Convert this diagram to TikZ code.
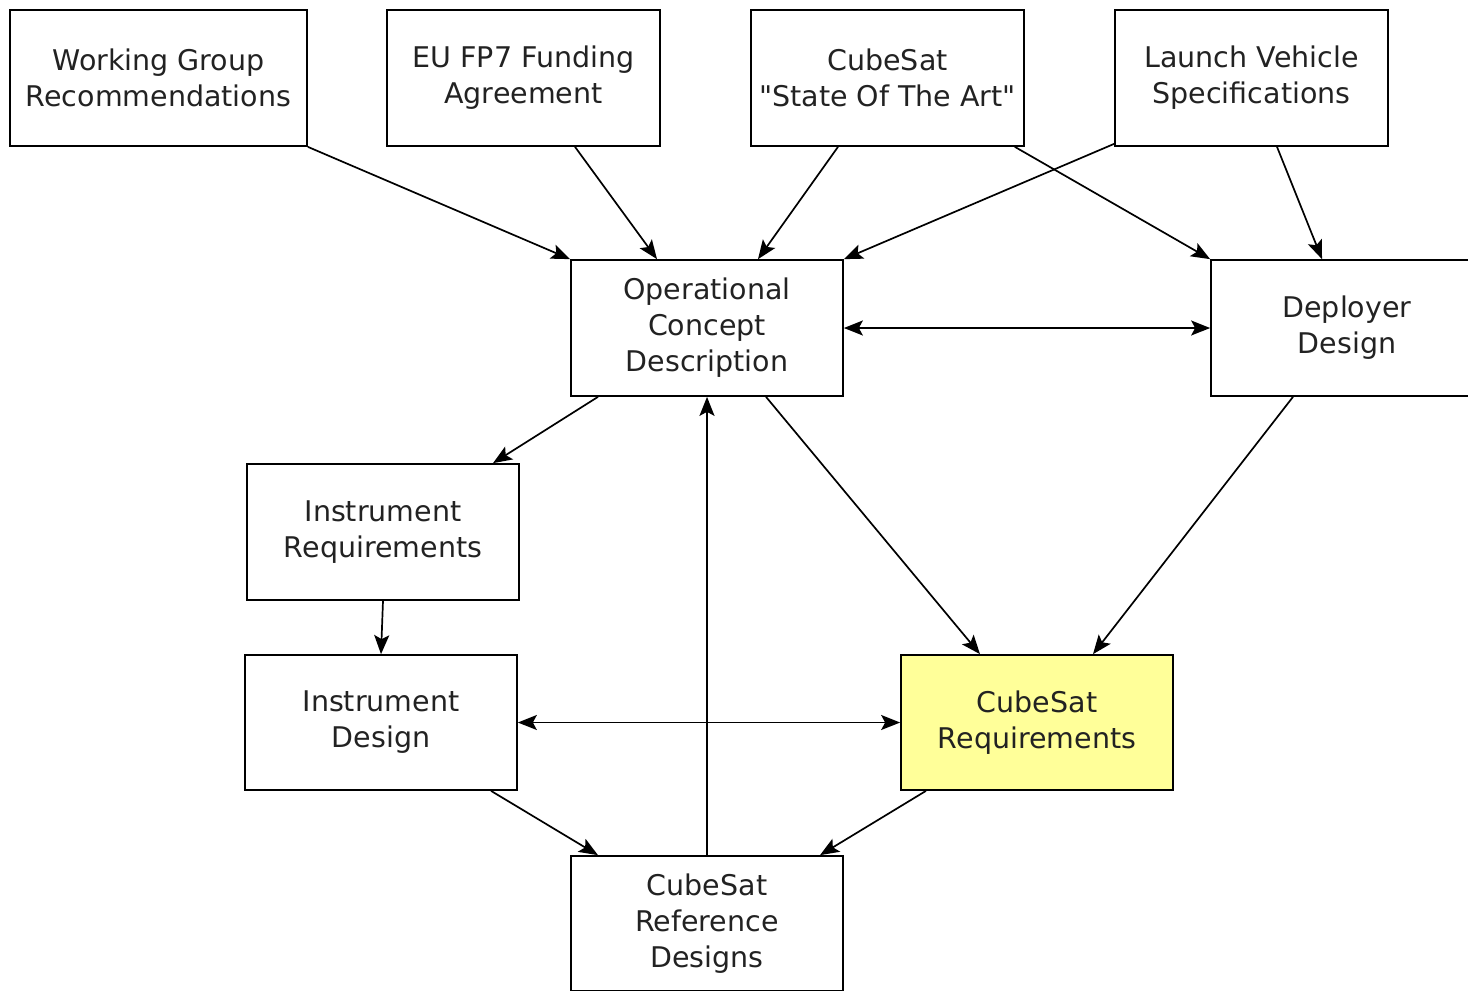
\documentclass[tikz,border=0pt]{standalone}
\usepackage{fontspec}
\setmainfont{DejaVu Sans}[Ligatures=TeXOff]
\usetikzlibrary{arrows.meta}
\definecolor{reqyellow}{RGB}{255,255,153}
\definecolor{txt}{RGB}{34,34,34}
\tikzset{
  box/.style={draw=black, line width=1.7pt, rectangle, inner sep=0pt,
    minimum width=272pt, minimum height=136pt, align=center,
    font=\fontsize{28.5}{36}\selectfont, text=txt},
  conn/.style={line width=1.7pt, -{Stealth[length=19pt,width=15pt,inset=4pt]}},
  bconn/.style={line width=1.7pt, {Stealth[length=19pt,width=15pt,inset=4pt]}-{Stealth[length=19pt,width=15pt,inset=4pt]}}
}
\begin{document}
\begin{tikzpicture}[x=1pt,y=-1pt]
\useasboundingbox (0,0) rectangle (1468,991);
\node[box, minimum width=297pt] (wg) at (158.5,78) {Working Group\\Recommendations};
\node[box, minimum width=273pt] (eu) at (523.5,78) {EU FP7 Funding\\Agreement};
\node[box, minimum width=273pt] (soa) at (887.5,78) {CubeSat\\"State Of The Art"};
\node[box, minimum width=273pt] (lvs) at (1251.5,78) {Launch Vehicle\\Specifications};
\node[box] (ocd) at (707,328) {Operational\\Concept\\Description};
\node[box] (dd) at (1347,328) {Deployer\\Design};
\node[box] (ir) at (383,532) {Instrument\\Requirements};
\node[box, minimum height=135pt] (id) at (381,722.5) {Instrument\\Design};
\node[box, minimum height=135pt, fill=reqyellow] (cr) at (1037,722.5) {CubeSat\\Requirements};
\node[box, minimum height=135pt] (rd) at (707,923.5) {CubeSat\\Reference\\Designs};

\draw[conn] (wg.south east) -- (ocd.north west);
\draw[conn] ([xshift=51.5pt]eu.south) -- ([xshift=-50pt]ocd.north);
\draw[conn] ([xshift=-49.5pt]soa.south) -- ([xshift=51pt]ocd.north);
\draw[conn] ([yshift=3pt]lvs.south west) -- (ocd.north east);
\draw[conn] ([xshift=-10pt]soa.south east) -- (dd.north west);
\draw[conn] ([xshift=25.5pt]lvs.south) -- ([xshift=-25pt]dd.north);
\draw[bconn] (ocd.east) -- (dd.west);
\draw[conn] ([xshift=-109pt]ocd.south) -- ([xshift=110pt]ir.north);
\draw[conn] ([xshift=59pt]ocd.south) -- ([xshift=-57pt]cr.north);
\draw[conn] ([xshift=-54pt]dd.south) -- ([xshift=56pt]cr.north);
\draw[conn] (ir.south) -- (id.north);
\draw[bconn] (id.east) -- (cr.west);
\draw[conn] ([xshift=110pt]id.south) -- ([xshift=-109pt]rd.north);
\draw[conn] ([xshift=-111pt]cr.south) -- ([xshift=113pt]rd.north);
\draw[conn] (rd.north) -- (ocd.south);
\end{tikzpicture}
\end{document}
